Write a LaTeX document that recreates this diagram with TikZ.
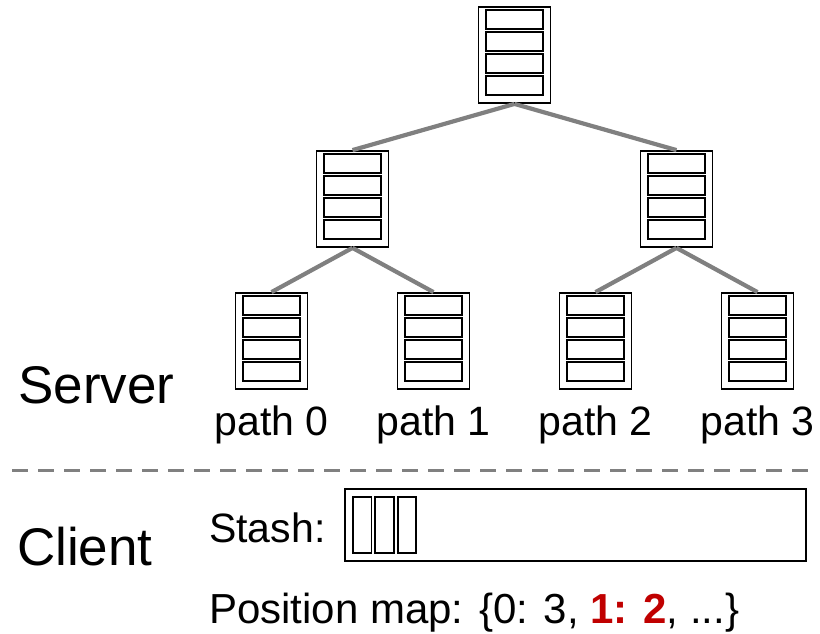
\documentclass[tikz,border=0pt]{standalone}
\usepackage{fontspec}
\setmainfont{Liberation Sans}
\usetikzlibrary{positioning}
\definecolor{darkred}{RGB}{192,0,0}
\tikzset{
	bucket/.style={draw, line width=1.8pt, minimum width=72pt, minimum height=96pt, inner sep=0pt},
	cell/.style={draw, line width=1.8pt, minimum width=18.5pt, minimum height=56pt, inner sep=0pt},
	edge/.style={draw=gray, line width=4.2pt},
	lbl/.style={font=\fontsize{41}{49}\selectfont, inner sep=0pt},
	big/.style={font=\fontsize{53}{63}\selectfont, inner sep=0pt}
}
\begin{document}
\begin{tikzpicture}[x=1pt, y=-1pt]
		\useasboundingbox (0,0) rectangle (820,633);
		% tree of buckets
		\node[bucket] (r) at (514.5,55) {};
		\node[bucket] (a) at (352.5,199) {};
		\node[bucket] (b) at (676.5,199) {};
		\node[bucket] (p0) at (271.5,341) {};
		\node[bucket] (p1) at (433.5,341) {};
		\node[bucket] (p2) at (595.5,341) {};
		\node[bucket] (p3) at (757.5,341) {};
		\foreach \b in {r,a,b,p0,p1,p2,p3}
			\foreach \k in {0,...,3}
				\draw [line width=1.8pt] ([xshift=-28.5pt, yshift=-4pt-22pt*\k]\b.north) rectangle ++(57pt,-19pt);
		\draw [edge] (r.south)--(a.north);
		\draw [edge] (r.south)--(b.north);
		\draw [edge] (a.south)--(p0.north);
		\draw [edge] (a.south)--(p1.north);
		\draw [edge] (b.south)--(p2.north);
		\draw [edge] (b.south)--(p3.north);
		\foreach \i in {0,...,3}
			\node[lbl, anchor=base] (l\i) at ([yshift=-46pt]p\i.south) {path \i};
		% server / client split
		\coordinate (sl) at (12,470);
		\coordinate (sr) at (816,470);
		\draw [gray, line width=3pt, dash pattern=on 16pt off 10pt] (sl)--(sr);
		\node[big, anchor=base west] (server) at (18,403) {Server};
		\node[big, anchor=base west] (client) at (17,565) {Client};
		% stash
		\node[lbl, anchor=base west] (stashtxt) at (209,542) {Stash:};
		\node[draw, line width=1.8pt, minimum width=461pt, minimum height=72pt, inner sep=0pt] (stash) at (575.5,525) {};
		\node[cell, anchor=west] (c1) at ([xshift=8pt]stash.west) {};
		\node[cell, right=2pt of c1] (c2) {};
		\node[cell, right=2pt of c2] (c3) {};
		\node[lbl, font=\fontsize{42}{50}\selectfont, anchor=base west] (posmap) at (209,623) {Position map: \{0: 3, \textcolor{darkred}{\textbf{1: 2}}, ...\}};
	\end{tikzpicture}
\end{document}
